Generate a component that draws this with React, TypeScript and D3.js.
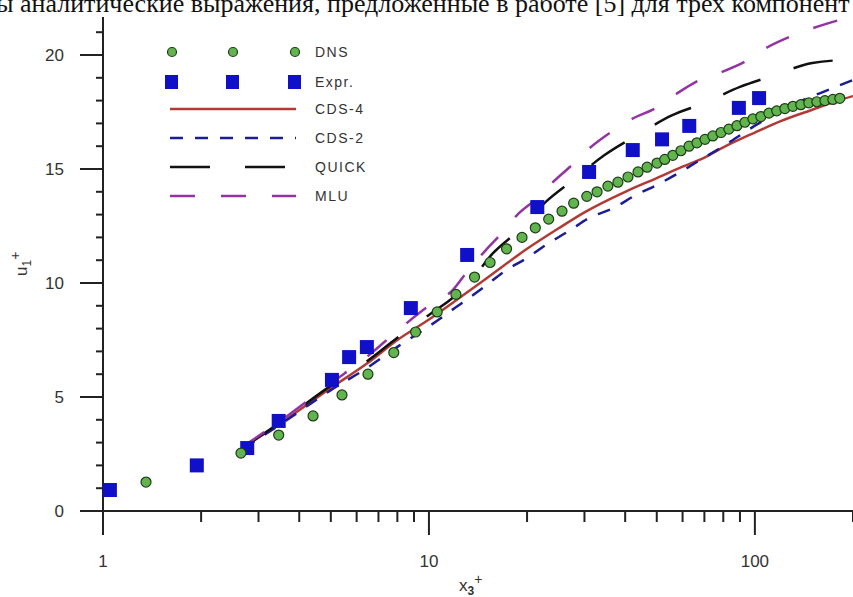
import * as d3 from 'd3';

const W = 853;
const H = 597;

// DNS (green circles)
const DNS_X = [1.355, 2.65, 3.46, 4.41, 5.41, 6.5, 7.8, 9.1, 10.6, 12.1, 13.8, 15.4, 17.3, 19.3, 21.2, 23.3, 25.6, 27.8, 30.5, 32.8, 35.4, 38.0, 40.8, 43.8, 46.7, 50.1, 52.9, 56.0, 59.3, 62.8, 66.4, 70.3, 74.3, 78.7, 83.2, 88.1, 93.2, 98.6, 104.3, 110.4, 116.7, 123.6, 130.8, 138.3, 146.4, 154.9, 164.0, 173.5, 182.2];
const DNS_Y = [1.27, 2.54, 3.33, 4.17, 5.09, 6.0, 6.95, 7.85, 8.73, 9.5, 10.26, 10.9, 11.5, 12.0, 12.42, 12.8, 13.15, 13.5, 13.8, 14.0, 14.25, 14.42, 14.65, 14.87, 15.08, 15.26, 15.42, 15.6, 15.8, 16.0, 16.15, 16.3, 16.45, 16.6, 16.75, 16.9, 17.05, 17.2, 17.3, 17.45, 17.55, 17.65, 17.75, 17.82, 17.9, 17.95, 18.0, 18.05, 18.1];

// Experiment (blue squares)
const EXPR_X = [1.05, 1.94, 2.77, 3.46, 5.04, 5.69, 6.45, 8.8, 13.1, 21.5, 31, 42.2, 51.9, 62.9, 89.3, 103];
const EXPR_Y = [0.92, 2.0, 2.76, 3.95, 5.75, 6.75, 7.19, 8.9, 11.23, 13.33, 14.87, 15.83, 16.3, 16.89, 17.68, 18.11];

// CDS-4 (solid red)
const CDS4_X = [2.7, 3.5, 5, 6.5, 8, 10, 12, 15, 20, 25, 30, 40, 50, 60, 70, 80, 100, 120, 150, 180, 200];
const CDS4_Y = [2.8, 3.85, 5.4, 6.5, 7.5, 8.4, 9.2, 10.2, 11.5, 12.4, 13.1, 14.0, 14.6, 15.1, 15.5, 15.95, 16.6, 17.1, 17.6, 18.0, 18.2];

// CDS-2 (short navy dashes)
const CDS2_X = [2.7, 3.5, 5, 6.5, 8, 10, 12, 15, 17, 20, 23, 27, 31, 37, 43, 50, 58, 68, 80, 100, 130, 170, 200];
const CDS2_Y = [2.75, 3.8, 5.3, 6.3, 7.2, 8.1, 8.9, 9.9, 10.5, 11.1, 11.7, 12.3, 12.85, 13.3, 13.85, 14.3, 14.8, 15.4, 16.0, 16.9, 17.8, 18.5, 18.9];

// QUICK (long black dashes)
const QUICK_X = [2.7, 3.5, 5, 6.5, 8, 10, 11.6, 13.1, 15.7, 19, 23, 27.6, 34.5, 43.7, 55.6, 70, 90, 114, 150, 200];
const QUICK_Y = [2.8, 3.9, 5.5, 6.6, 7.6, 8.6, 9.25, 9.9, 11.3, 12.35, 13.6, 14.5, 15.6, 16.5, 17.35, 17.9, 18.6, 19.1, 19.65, 19.8];

// MLU (purple dashes)
const MLU_X = [2.7, 3.5, 5, 6.5, 8, 10, 11.85, 13.1, 14.85, 16.5, 18.7, 21.4, 23.9, 27.6, 31, 36, 42, 50, 57.5, 67.6, 79, 93, 108, 128, 160, 200];
const MLU_Y = [2.85, 3.95, 5.6, 6.8, 7.9, 9.0, 9.7, 10.5, 11.4, 12.1, 13.0, 13.7, 14.4, 15.2, 15.9, 16.6, 17.2, 17.7, 18.3, 18.9, 19.25, 19.7, 20.3, 20.8, 21.3, 21.7];

const X_LABELS = [1, 10, 100];
const Y_LABELS = [0, 5, 10, 15, 20];
const LEGEND_LABELS = ['DNS', 'Expr.', 'CDS-4', 'CDS-2', 'QUICK', 'MLU'];

const zip = (xs: number[], ys: number[]) => xs.map((x, i) => [x, ys[i]] as [number, number]);

const LINES = [
  { name: 'CDS-4', data: zip(CDS4_X, CDS4_Y), color: '#b23a36', dash: '' },
  { name: 'CDS-2', data: zip(CDS2_X, CDS2_Y), color: '#1c1c96', dash: '13,12' },
  { name: 'QUICK', data: zip(QUICK_X, QUICK_Y), color: '#111111', dash: '40,35' },
  { name: 'MLU', data: zip(MLU_X, MLU_Y), color: '#9434a4', dash: '25,26' },
];

const SANS = '"Liberation Sans", Arial, sans-serif';

export default function App() {
  const x = d3.scaleLog().domain([1, 200]).range([103, 853]);
  const y = d3.scaleLinear().domain([0, 20]).range([511, 55]);

  const line = d3
    .line<[number, number]>()
    .x((d) => x(d[0]))
    .y((d) => y(d[1]))
    .curve(d3.curveMonotoneX);

  const xTicks = x.ticks();
  const yTicks = d3.range(0, 22, 1);
  const dns = zip(DNS_X, DNS_Y);
  const expr = zip(EXPR_X, EXPR_Y);

  const legendY = [52, 82, 109, 138, 167, 196];
  const legendMarkX = [172, 233, 295];

  return (
    <div style={{ position: 'fixed', left: 0, top: 0 }}>
      <svg width={W} height={H} style={{ display: 'block', background: '#fff' }}>
        <text x={-4} y={12} fontFamily='"Liberation Serif", "Times New Roman", serif' fontSize={26} fill="#111">
          ы аналитические выражения, предложенные в работе [5] для трех компонент
        </text>

        {/* axes */}
        <g stroke="#222" strokeWidth={2}>
          <line x1={80} x2={W} y1={y(0)} y2={y(0)} />
          <line x1={x(1)} x2={x(1)} y1={17} y2={535} />
          {xTicks.map((t) => {
            const major = X_LABELS.includes(t);
            return <line key={'xt' + t} x1={x(t)} x2={x(t)} y1={y(0)} y2={major ? 535 : 522} />;
          })}
          {yTicks.map((t) => {
            const major = t % 5 === 0;
            return <line key={'yt' + t} x1={major ? 80 : 96} x2={x(1)} y1={y(t)} y2={y(t)} />;
          })}
        </g>
        <g fontFamily={SANS} fontSize={17} fill="#333">
          {X_LABELS.map((t) => (
            <text key={'xl' + t} x={x(t)} y={567} textAnchor="middle">
              {t}
            </text>
          ))}
          {Y_LABELS.map((t) => (
            <text key={'yl' + t} x={64} y={y(t)} dy="0.35em" textAnchor="end">
              {t}
            </text>
          ))}
        </g>

        {/* axis titles */}
        <text x={459} y={591} fontFamily={SANS} fontSize={17} fill="#333">
          x
          <tspan fontSize={12} fontWeight="bold" dy={4}>3</tspan>
          <tspan fontSize={14} dy={-11}>+</tspan>
        </text>
        <text transform="translate(27,276) rotate(-90)" fontFamily={SANS} fontSize={17} fill="#333">
          u
          <tspan fontSize={12} dy={4}>1</tspan>
          <tspan fontSize={14} dy={-11}>+</tspan>
        </text>

        {/* curves */}
        {LINES.map((s) => (
          <path
            key={s.name}
            d={line(s.data) ?? ''}
            fill="none"
            stroke={s.color}
            strokeWidth={2.5}
            strokeDasharray={s.dash || undefined}
          />
        ))}

        {/* experiment */}
        {expr.map((d, i) => (
          <rect key={'e' + i} x={x(d[0]) - 7} y={y(d[1]) - 7} width={14} height={14} fill="#1010c8" />
        ))}

        {/* DNS */}
        {dns.map((d, i) => (
          <circle key={'d' + i} cx={x(d[0])} cy={y(d[1])} r={5} fill="#62b44e" stroke="#1d3d18" strokeWidth={1.2} />
        ))}

        {/* legend */}
        {legendMarkX.map((mx) => (
          <circle key={'ld' + mx} cx={mx} cy={legendY[0]} r={4.5} fill="#62b44e" stroke="#1d3d18" strokeWidth={1.2} />
        ))}
        {legendMarkX.map((mx) => (
          <rect key={'le' + mx} x={mx - 7} y={legendY[1] - 7} width={13} height={14} fill="#1010c8" />
        ))}
        {LINES.map((s, i) => (
          <line
            key={'ll' + s.name}
            x1={170}
            x2={296}
            y1={legendY[i + 2]}
            y2={legendY[i + 2]}
            stroke={s.color}
            strokeWidth={2.5}
            strokeDasharray={s.dash || undefined}
          />
        ))}
        <g fontFamily={SANS} fontSize={14} fill="#333" letterSpacing={1.5}>
          {LEGEND_LABELS.map((t, i) => (
            <text key={'lt' + t} x={315} y={legendY[i]} dy="0.35em">
              {t}
            </text>
          ))}
        </g>
      </svg>
    </div>
  );
}
